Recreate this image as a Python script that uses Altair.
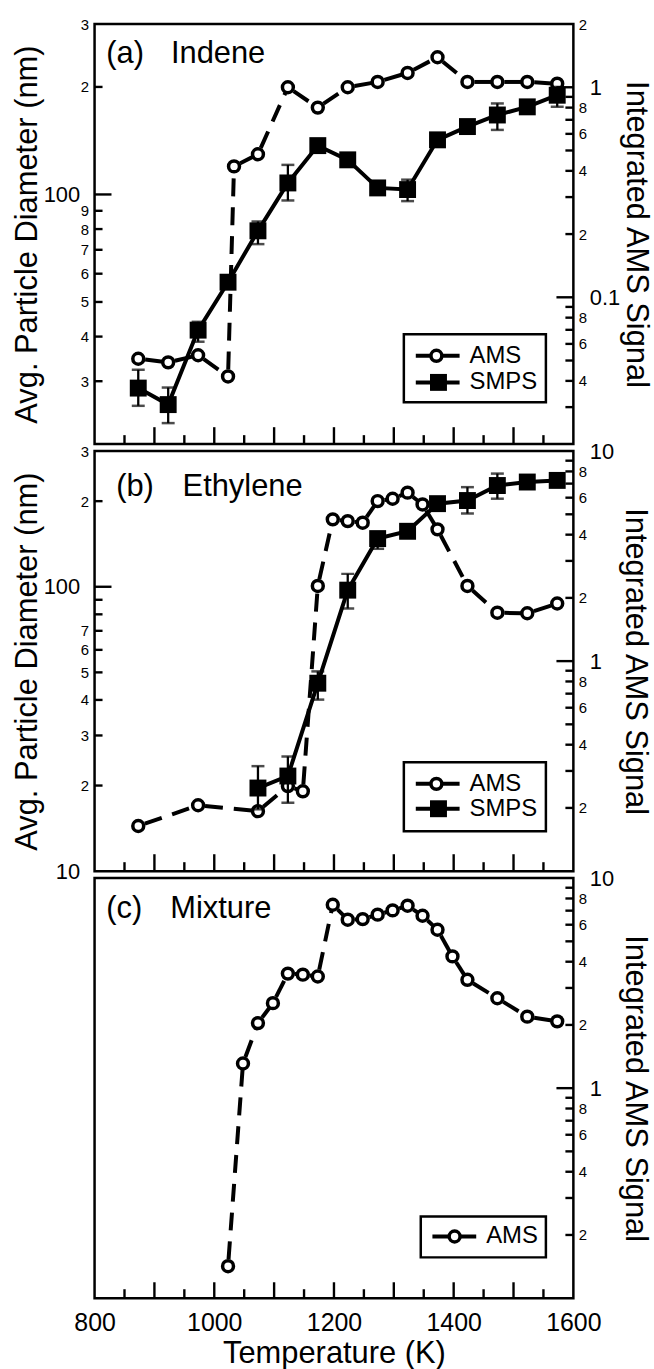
import math
import altair as alt
import pandas as pd

FONT = "Liberation Sans"
W, H = 481, 422
GAP = 7

# ---------------- data ----------------
# (a) Indene
a_ams_T = [873, 923, 973, 1023, 1033, 1073, 1123, 1173, 1223, 1273, 1323, 1373, 1423, 1473, 1523, 1573]
a_ams_sig = [0.051, 0.049, 0.053, 0.042, 0.42, 0.48, 1.0, 0.80, 1.0, 1.06, 1.17, 1.39, 1.06, 1.06, 1.06, 1.04]
a_smps_T = [873, 923, 973, 1023, 1073, 1123, 1173, 1223, 1273, 1323, 1373, 1423, 1473, 1523, 1573]
a_smps_d = [28.7, 25.8, 41.7, 56.8, 79.1, 107.7, 137, 125, 104.3, 103.2, 142.2, 154.9, 166.9, 175.9, 189.6]
a_err_T = [873, 923, 973, 1073, 1123, 1323, 1473, 1573]
a_err_lo = [25.6, 22.9, 38.7, 72.6, 96.2, 95.8, 151.6, 176]
a_err_hi = [32.3, 28.8, 44.0, 84.0, 121, 110, 179.8, 200]

# (b) Ethylene
b_ams_T = [873, 973, 1073, 1123, 1148, 1173, 1198, 1223, 1248, 1273, 1298, 1323, 1348, 1373, 1423, 1473, 1523, 1573]
b_ams_sig = [0.164, 0.206, 0.193, 0.254, 0.240, 2.28, 4.73, 4.64, 4.56, 5.78, 5.93, 6.34, 5.57, 4.24, 2.28, 1.70, 1.69, 1.88]
b_smps_T = [1073, 1123, 1173, 1223, 1273, 1323, 1373, 1423, 1473, 1523, 1573]
b_smps_d = [19.6, 21.6, 45.8, 97.3, 147.7, 156.7, 196, 201, 227, 233.5, 236.6]
b_err_T = [1073, 1123, 1173, 1223, 1273, 1423, 1473]
b_err_lo = [16.5, 17.4, 40.1, 83.9, 136, 181, 204]
b_err_hi = [23.4, 25.3, 50.4, 111, 154, 224, 250]

# (c) Mixture
c_ams_T = [1023, 1048, 1073, 1098, 1123, 1148, 1173, 1198, 1223, 1248, 1273, 1298, 1323, 1348,
           1373, 1398, 1423, 1473, 1523, 1573]
c_ams_sig = [0.142, 1.31, 2.04, 2.54, 3.51, 3.47, 3.40, 7.47, 6.34, 6.38, 6.70, 7.02, 7.39, 6.62,
             5.68, 4.24, 3.28, 2.68, 2.19, 2.08]

# axis ticks / labels
x_labels = [800, 1000, 1200, 1400, 1600]
x_ticks = [850, 900, 950, 1000, 1050, 1100, 1150, 1200, 1250, 1300, 1350, 1400, 1450, 1500, 1550]

a_left_labels = [30, 40, 50, 60, 70, 80, 90, 100, 200, 300]
a_left_ticks = [30, 40, 50, 60, 70, 80, 90, 100, 200]
a_right_labels = [0.04, 0.06, 0.08, 0.1, 0.2, 0.4, 0.6, 0.8, 1, 2]
a_right_ticks = [0.03, 0.04, 0.05, 0.06, 0.07, 0.08, 0.09, 0.1, 0.2, 0.3, 0.4, 0.5, 0.6, 0.7, 0.8, 0.9, 1]

b_left_labels = [10, 20, 30, 40, 50, 60, 70, 100, 200, 300]
b_left_ticks = [20, 30, 40, 50, 60, 70, 80, 90, 100, 200]
sig_labels = [0.2, 0.4, 0.6, 0.8, 1, 2, 4, 6, 8, 10]
sig_ticks = [0.2, 0.3, 0.4, 0.5, 0.6, 0.7, 0.8, 0.9, 1, 2, 3, 4, 5, 6, 7, 8, 9]

X_DOMAIN = [800, 1600]

LW = 4.0
TW = 2.4
CIRC = dict(shape="circle", filled=True, fill="white", stroke="black", strokeWidth=3.5,
            size=120, opacity=1)
SQ = dict(size=289, color="black", filled=True, opacity=1)

x_scale = alt.Scale(domain=X_DOMAIN, nice=False, zero=False)


def log_scale(dom):
    return alt.Scale(type="log", domain=dom, nice=False)


def yaxis(orient, values, expr, major_test, title, title_pad, major_pad, minor_pad):
    return alt.Axis(
        orient=orient, values=values, labelExpr=expr,
        labelFontSize={"condition": {"test": major_test, "value": 22}, "value": 15},
        labelPadding={"condition": {"test": major_test, "value": major_pad}, "value": minor_pad},
        labelFont=FONT, labelColor="black", labelOverlap=False,
        ticks=False, domain=False, grid=False,
        title=title, titleFont=FONT, titleFontSize=31, titleFontWeight="normal",
        titleColor="black", titlePadding=title_pad)


x_axis_c = alt.Axis(values=x_labels, format="d", labelFontSize=25, labelFont=FONT,
                    labelColor="black", labelPadding=12, labelFlush=False, labelOverlap=False,
                    ticks=False, domain=False, grid=False, title="Temperature (K)",
                    titleFont=FONT, titleFontSize=31, titleFontWeight="normal",
                    titleColor="black", titlePadding=4)

ONE = pd.DataFrame({"k": [0]})


# ---- panel frame drawn as a mark (the view stroke is switched off) ----
def frame():
    return alt.Chart(ONE).mark_rect(fill="white", fillOpacity=0, stroke="black",
                                    strokeWidth=2.5).encode(
        x=alt.value(0), x2=alt.value(W), y=alt.value(0), y2=alt.value(H))


# ---- inward axis ticks (same mapping as the linear / log scales above) ----
def _ypix(v, dom):
    lo, hi = math.log10(dom[0]), math.log10(dom[1])
    return H * (hi - math.log10(v)) / (hi - lo)


def _xpix(t):
    return W * (t - X_DOMAIN[0]) / (X_DOMAIN[1] - X_DOMAIN[0])


def ytick_marks(values, dom, side, majors):
    out = []
    for v in values:
        L = 17 if v in majors else 8
        x0, x1 = (0, L) if side == "left" else (W - L, W)
        out.append(alt.Chart(ONE).mark_rule(color="black", strokeWidth=TW).encode(
            x=alt.value(x0), x2=alt.value(x1), y=alt.value(_ypix(v, dom))))
    return out


def xtick_marks(long_len):
    out = []
    for t in x_ticks:
        L = long_len if t % 100 == 0 else 9
        out.append(alt.Chart(ONE).mark_rule(color="black", strokeWidth=TW).encode(
            x=alt.value(_xpix(t)), y=alt.value(H), y2=alt.value(H - L)))
    return out


def seg_df(T, v):
    rows = []
    for i in range(len(T) - 1):
        rows.append({"T": T[i], "v": v[i], "seg": i})
        rows.append({"T": T[i + 1], "v": v[i + 1], "seg": i})
    return pd.DataFrame(rows)


def ams_layers(T, v, dom, ya, xa):
    enc = dict(x=alt.X("T:Q", scale=x_scale, axis=xa), y=alt.Y("v:Q", scale=log_scale(dom), axis=ya))
    line = alt.Chart(seg_df(T, v)).mark_line(
        color="black", strokeWidth=LW, strokeDash=[18, 11], strokeDashOffset=22
    ).encode(detail="seg:N", **enc)
    pts = alt.Chart(pd.DataFrame({"T": T, "v": v})).mark_point(**CIRC).encode(**enc)
    return [line, pts]


def smps_layers(T, v, eT, elo, ehi, dom, ya, xa):
    xx = alt.X("T:Q", scale=x_scale, axis=xa)
    ys = log_scale(dom)
    err = pd.DataFrame({"T": eT, "lo": elo, "hi": ehi})
    bar = alt.Chart(err).mark_rule(color="black", strokeWidth=2.3).encode(
        x=xx, y=alt.Y("lo:Q", scale=ys, axis=ya), y2="hi:Q")
    cap_lo = alt.Chart(err).mark_tick(orient="horizontal", size=13, thickness=2.5, color="black").encode(
        x=xx, y=alt.Y("lo:Q", scale=ys, axis=ya))
    cap_hi = alt.Chart(err).mark_tick(orient="horizontal", size=13, thickness=2.5, color="black").encode(
        x=xx, y=alt.Y("hi:Q", scale=ys, axis=ya))
    df = pd.DataFrame({"T": T, "v": v})
    line = alt.Chart(df).mark_line(color="black", strokeWidth=LW).encode(
        x=xx, y=alt.Y("v:Q", scale=ys, axis=ya))
    sq = alt.Chart(df).mark_square(**SQ).encode(x=xx, y=alt.Y("v:Q", scale=ys, axis=ya))
    return [bar, cap_lo, cap_hi, line, sq]


def text_at(x, y, s, size=31):
    return alt.Chart(ONE).mark_text(align="left", baseline="middle", font=FONT, fontSize=size,
                                    color="black").encode(
        x=alt.value(x), y=alt.value(y), text=alt.value(s))


def legend(box, rows):
    x0, x1, y0, y1 = box
    out = [alt.Chart(ONE).mark_rect(fill="white", stroke="black", strokeWidth=2.5).encode(
        x=alt.value(x0), x2=alt.value(x1), y=alt.value(y0), y2=alt.value(y1))]
    for kind, y, lx0, lx1, mx, tx, label in rows:
        out.append(alt.Chart(ONE).mark_rule(color="black", strokeWidth=LW).encode(
            x=alt.value(lx0), x2=alt.value(lx1), y=alt.value(y)))
        if kind == "circle":
            out.append(alt.Chart(ONE).mark_point(**CIRC).encode(x=alt.value(mx), y=alt.value(y)))
        else:
            out.append(alt.Chart(ONE).mark_square(**SQ).encode(x=alt.value(mx), y=alt.value(y)))
        out.append(text_at(tx, y, label, 24))
    return out


left_expr = ("datum.value == 100 || datum.value == 10 ? format(datum.value, 'd') : "
             "datum.value > 100 ? format(datum.value / 100, 'd') : format(datum.value / 10, 'd')")
left_major_test = "datum.value == 100 || datum.value == 10"
right_expr_a = ("datum.value == 1 ? '1' : datum.value == 0.1 ? '0.1' : datum.value > 1 ? "
                "format(datum.value, 'd') : datum.value > 0.1 ? format(datum.value * 10, '.0f') : "
                "format(datum.value * 100, '.0f')")
right_expr_b = "datum.value >= 1 ? format(datum.value, 'd') : format(datum.value * 10, '.0f')"

# ---------------- panel (a) ----------------
dom_aL, dom_aR = [20, 300], [0.02, 2]
ax_aL = yaxis("left", a_left_labels, left_expr, left_major_test,
              "Avg. Particle Diameter (nm)", 0, 15, 6)
ax_aR = yaxis("right", a_right_labels, right_expr_a, "datum.value == 1 || datum.value == 0.1",
              "Integrated AMS Signal", 0, 16, 5)

right_a = alt.layer(*ams_layers(a_ams_T, a_ams_sig, dom_aR, ax_aR, None))
left_a = alt.layer(
    *smps_layers(a_smps_T, a_smps_d, a_err_T, a_err_lo, a_err_hi, dom_aL, ax_aL, None),
    text_at(11.7, 30, "(a)"), text_at(76.7, 30, "Indene"),
    *legend((310.7, 453.4, 311.6, 380),
            [("circle", 333.3, 322.7, 366.7, 343.4, 376.7, "AMS"),
             ("square", 360, 322.7, 366.7, 345.5, 376.7, "SMPS")]),
    frame(),
    *ytick_marks(a_left_ticks, dom_aL, "left", [100]),
    *ytick_marks(a_right_ticks, dom_aR, "right", [0.1, 1]),
    *xtick_marks(17),
)
panel_a = alt.layer(right_a, left_a).resolve_scale(y="independent").properties(width=W, height=H)

# ---------------- panel (b) ----------------
dom_bL, dom_bR = [10, 300], [0.1, 10]
ax_bL = yaxis("left", b_left_labels, left_expr, left_major_test,
              "Avg. Particle Diameter (nm)", 0, 15, 6)
ax_bR = yaxis("right", sig_labels, right_expr_b, "datum.value == 1 || datum.value == 10",
              "Integrated AMS Signal", 5, 16, 5)

right_b = alt.layer(*ams_layers(b_ams_T, b_ams_sig, dom_bR, ax_bR, None))
left_b = alt.layer(
    *smps_layers(b_smps_T, b_smps_d, b_err_T, b_err_lo, b_err_hi, dom_bL, ax_bL, None),
    text_at(21.7, 36, "(b)"), text_at(88.4, 36, "Ethylene"),
    *legend((310.7, 453.4, 312.6, 382),
            [("circle", 334.3, 322.7, 366.7, 343.4, 376.7, "AMS"),
             ("square", 359.3, 322.7, 366.7, 345.5, 376.7, "SMPS")]),
    frame(),
    *ytick_marks(b_left_ticks, dom_bL, "left", [100]),
    *ytick_marks(sig_ticks, dom_bR, "right", [1]),
    *xtick_marks(17),
)
panel_b = alt.layer(right_b, left_b).resolve_scale(y="independent").properties(width=W, height=H)

# ---------------- panel (c) ----------------
dom_cR = [0.1, 10]
ax_cR = yaxis("right", sig_labels, right_expr_b, "datum.value == 1 || datum.value == 10",
              "Integrated AMS Signal", 5, 16, 5)
panel_c = alt.layer(
    *ams_layers(c_ams_T, c_ams_sig, dom_cR, ax_cR, x_axis_c),
    text_at(11.7, 31, "(c)"), text_at(76, 31, "Mixture"),
    *legend((327.7, 453.4, 340, 381),
            [("circle", 360, 339.4, 383.4, 361.7, 393.4, "AMS")]),
    frame(),
    *ytick_marks(sig_ticks, dom_cR, "right", [1]),
    *xtick_marks(16),
).properties(width=W, height=H)

chart = alt.vconcat(panel_a, panel_b, panel_c, spacing=GAP, bounds="flush").properties(
    padding={"left": 11, "top": 14, "right": 2, "bottom": 0}
).configure(font=FONT).configure_view(stroke="transparent", strokeWidth=0)

chart.save("out.html", embed_options={"renderer": "svg", "actions": False})
